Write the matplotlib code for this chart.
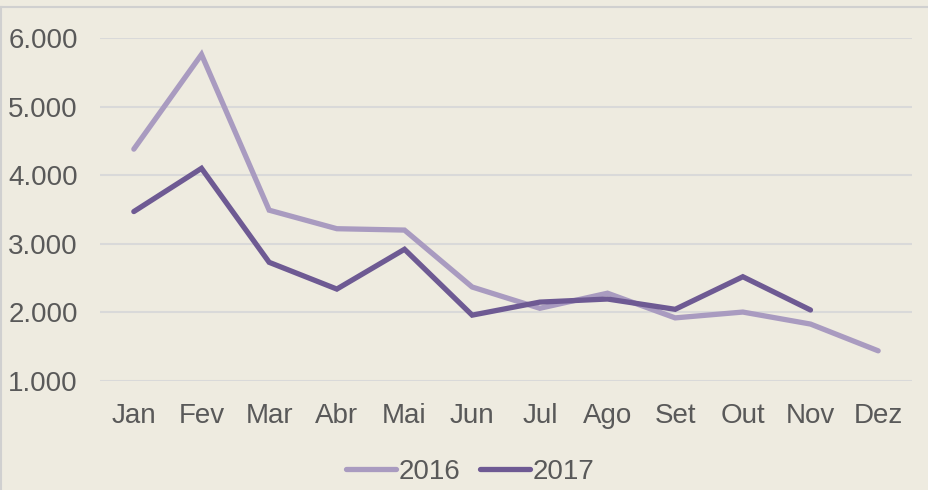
import matplotlib
matplotlib.use("Agg")
import matplotlib.pyplot as plt
from matplotlib.ticker import FuncFormatter
from matplotlib.lines import Line2D

months = ["Jan", "Fev", "Mar", "Abr", "Mai", "Jun", "Jul", "Ago", "Set", "Out", "Nov", "Dez"]
v2016 = [4380, 5760, 3490, 3220, 3200, 2370, 2060, 2280, 1920, 2005, 1830, 1440]
v2017 = [3470, 4100, 2730, 2340, 2920, 1960, 2150, 2195, 2045, 2520, 2035]
yticks = [1000, 2000, 3000, 4000, 5000, 6000]

bg = "#EEEBE0"
c2016 = "#A99BC0"
c2017 = "#6E5A93"
txt = "#595959"
grid = "#D9D9D9"

plt.rcParams['font.family'] = ['Liberation Sans Narrow', 'Liberation Sans', 'DejaVu Sans']

fig = plt.figure(figsize=(9.29, 4.90), dpi=100, facecolor=bg)
ax = fig.add_axes([100/929, 1-381/490, 812/929, 343/490])
ax.set_facecolor(bg)

x16 = list(range(len(v2016)))
x17 = list(range(len(v2017)))
ax.plot(x16, v2016, color=c2016, lw=3.8, solid_capstyle='round', solid_joinstyle='miter', clip_on=False, zorder=3, label="2016")
ax.plot(x17, v2017, color=c2017, lw=3.8, solid_capstyle='round', solid_joinstyle='miter', clip_on=False, zorder=4, label="2017")

ax.set_xlim(-0.5, 11.5)
ax.set_ylim(1000, 6000)
ax.set_yticks(yticks)
ax.yaxis.set_major_formatter(FuncFormatter(lambda v, p: f"{int(v):,}".replace(",", ".")))
ax.set_xticks(range(12))
ax.set_xticklabels(months)
ax.grid(axis='y', color=grid, lw=1.5)
ax.set_axisbelow(True)
for s in ax.spines.values():
    s.set_visible(False)
ax.tick_params(axis='both', length=0, labelsize=20, colors=txt)
ax.tick_params(axis='y', pad=16)
ax.tick_params(axis='x', pad=16)

handles = [Line2D([0], [0], color=c2016, lw=3.8, solid_capstyle='round'),
           Line2D([0], [0], color=c2017, lw=3.8, solid_capstyle='round')]
leg = fig.legend(handles, ["2016", "2017"], loc='center', bbox_to_anchor=(470/929, 1-472/490),
                 ncol=2, frameon=False, fontsize=20, handlelength=1.8, handletextpad=0.1,
                 columnspacing=0.7, labelcolor=txt)

# chart frame border
fig.add_artist(Line2D([1/929, 1/929], [0, 1-7/490], color="#D0D0D0", lw=1.5, transform=fig.transFigure))
fig.add_artist(Line2D([1/929, 1], [1-7/490, 1-7/490], color="#D0D0D0", lw=1.5, transform=fig.transFigure))

fig.savefig("out.png", dpi=100, facecolor=bg)
